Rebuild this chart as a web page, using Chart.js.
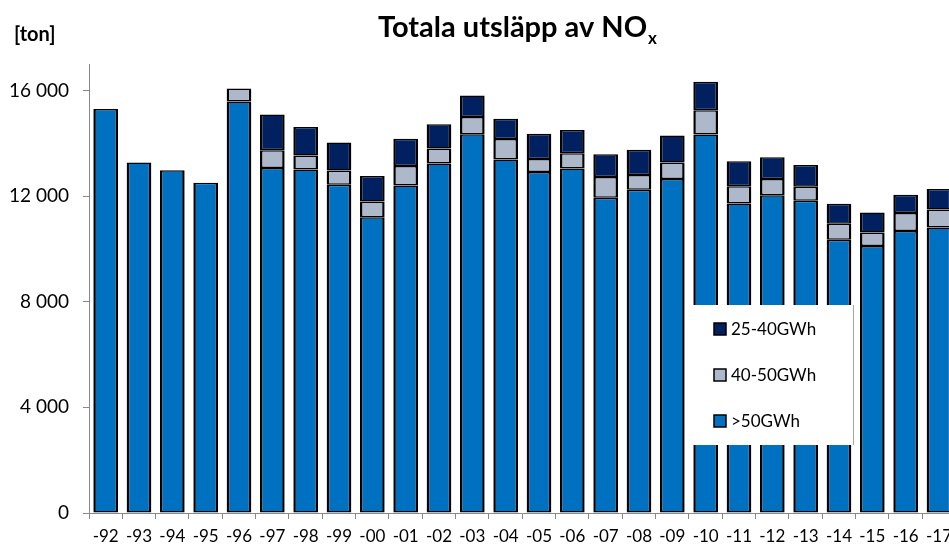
<!DOCTYPE html>
<html>
<head>
<meta charset="utf-8">
<script src="https://cdn.jsdelivr.net/npm/chart.js@4/dist/chart.umd.min.js"></script>
<style>
  html, body { margin: 0; padding: 0; background: #fff; overflow: hidden; }
  #wrap { position: relative; width: 959px; height: 544px; }
</style>
</head>
<body>
<div id="wrap"><canvas id="myChart" width="959" height="544"></canvas></div>
<script>
// years shown as -92 ... -17
const years = ['-92', '-93', '-94', '-95', '-96', '-97', '-98', '-99', '-00', '-01', '-02', '-03', '-04',
    '-05', '-06', '-07', '-08', '-09', '-10', '-11', '-12', '-13', '-14', '-15', '-16', '-17']

// tonnes NOx per plant size class (null = not reported that year)
const over50 = [15300, 13270, 12980, 12500, 15580, 13060, 13010, 12430, 11200, 12400, 13230, 14340, 13380,
    12910, 13040, 11940, 12240, 12650, 14330, 11720, 12030, 11820, 10350, 10110, 10680, 10810]
const from40to50 = [null, null, null, null, 490, 670, 530, 540, 590, 740, 570, 650, 780,
    490, 580, 780, 560, 620, 920, 650, 620, 530, 600, 510, 680, 680]
const from25to40 = [null, null, null, null, null, 1360, 1070, 1060, 970, 1030, 920, 820, 770,
    960, 880, 860, 950, 1020, 1080, 950, 820, 830, 760, 760, 690, 780]

const yTicks = [0, 4000, 8000, 12000, 16000]

const FONT = 'Lato, "Liberation Sans", sans-serif'

const fmt = v => String(v).replace(/\B(?=(\d{3})+(?!\d))/g, ' ')

// title with subscript x and the unit label
const titlePlugin = {
    id: 'titlePlugin',
    afterDraw(chart) {
        const ctx = chart.ctx
        ctx.save()
        ctx.fillStyle = '#000'
        ctx.textBaseline = 'alphabetic'
        ctx.font = 'bold 29px ' + FONT
        const main = 'Totala utsläpp av NO'
        const w1 = ctx.measureText(main).width
        ctx.font = 'bold 17px ' + FONT
        const w2 = ctx.measureText('x').width
        const x0 = 517 - (w1 + w2) / 2
        ctx.font = 'bold 29px ' + FONT
        ctx.fillText(main, x0, 37)
        ctx.font = 'bold 17px ' + FONT
        ctx.fillText('x', x0 + w1 + 1, 44)

        ctx.font = 'bold 20px ' + FONT
        ctx.fillText('[ton]', 14, 41)
        ctx.restore()
    }
}

// legend box sitting over the bars
const legendPlugin = {
    id: 'legendPlugin',
    afterDraw(chart) {
        const ctx = chart.ctx
        ctx.save()
        ctx.fillStyle = '#fff'
        ctx.fillRect(685, 305, 168, 140)
        ctx.strokeStyle = '#a6a6a6'
        ctx.lineWidth = 1
        ctx.beginPath()
        ctx.moveTo(853.5, 305)
        ctx.lineTo(853.5, 445)
        ctx.stroke()

        const items = chart.data.datasets.slice().reverse()
        items.forEach((ds, i) => {
            const cy = 329 + i * 46
            ctx.fillStyle = ds.backgroundColor
            ctx.fillRect(714, cy - 6, 12, 12)
            ctx.strokeStyle = '#000'
            ctx.lineWidth = 1.5
            ctx.strokeRect(714, cy - 6, 12, 12)
            ctx.fillStyle = '#000'
            ctx.font = '17px ' + FONT
            ctx.textBaseline = 'middle'
            ctx.fillText(ds.label, 731, cy + 1)
        })
        ctx.restore()
    }
}

const ctx = document.getElementById('myChart').getContext('2d')

new Chart(ctx, {
    type: 'bar',
    data: {
        labels: years,
        datasets: [
            { label: '>50GWh', data: over50, backgroundColor: '#0070C0' },
            { label: '40-50GWh', data: from40to50, backgroundColor: '#ADB9CA' },
            { label: '25-40GWh', data: from25to40, backgroundColor: '#002060' }
        ].map(d => Object.assign(d, {
            borderColor: '#000',
            borderWidth: { top: 1.5, bottom: 1.5, left: 2.5, right: 2.5 },
            borderSkipped: false,
            categoryPercentage: 1,
            barPercentage: 0.74
        }))
    },
    options: {
        responsive: false,
        animation: false,
        layout: { padding: { top: 64, left: 0, right: 0, bottom: 0 } },
        plugins: {
            legend: { display: false },
            title: { display: false },
            tooltip: { enabled: false }
        },
        scales: {
            x: {
                stacked: true,
                grid: { drawOnChartArea: false, drawTicks: true, tickLength: 6, color: '#898989', offset: true },
                border: { color: '#898989', width: 1 },
                ticks: { color: '#000', font: { family: FONT, size: 17 }, padding: 7, maxRotation: 0, autoSkip: false },
                afterFit: scale => { scale.height = 31 }
            },
            y: {
                stacked: true,
                min: 0,
                max: 17000,
                grid: { drawOnChartArea: false, drawTicks: true, tickLength: 6, color: '#898989' },
                border: { color: '#898989', width: 1 },
                ticks: {
                    stepSize: 4000,
                    color: '#000',
                    padding: 14,
                    font: { family: FONT, size: 19 },
                    callback: v => fmt(v)
                },
                afterBuildTicks: scale => {
                    scale.ticks = yTicks.map(v => ({ value: v }))
                },
                afterFit: scale => { scale.width = 89 }
            }
        }
    },
    plugins: [titlePlugin, legendPlugin]
})
</script>
</body>
</html>
